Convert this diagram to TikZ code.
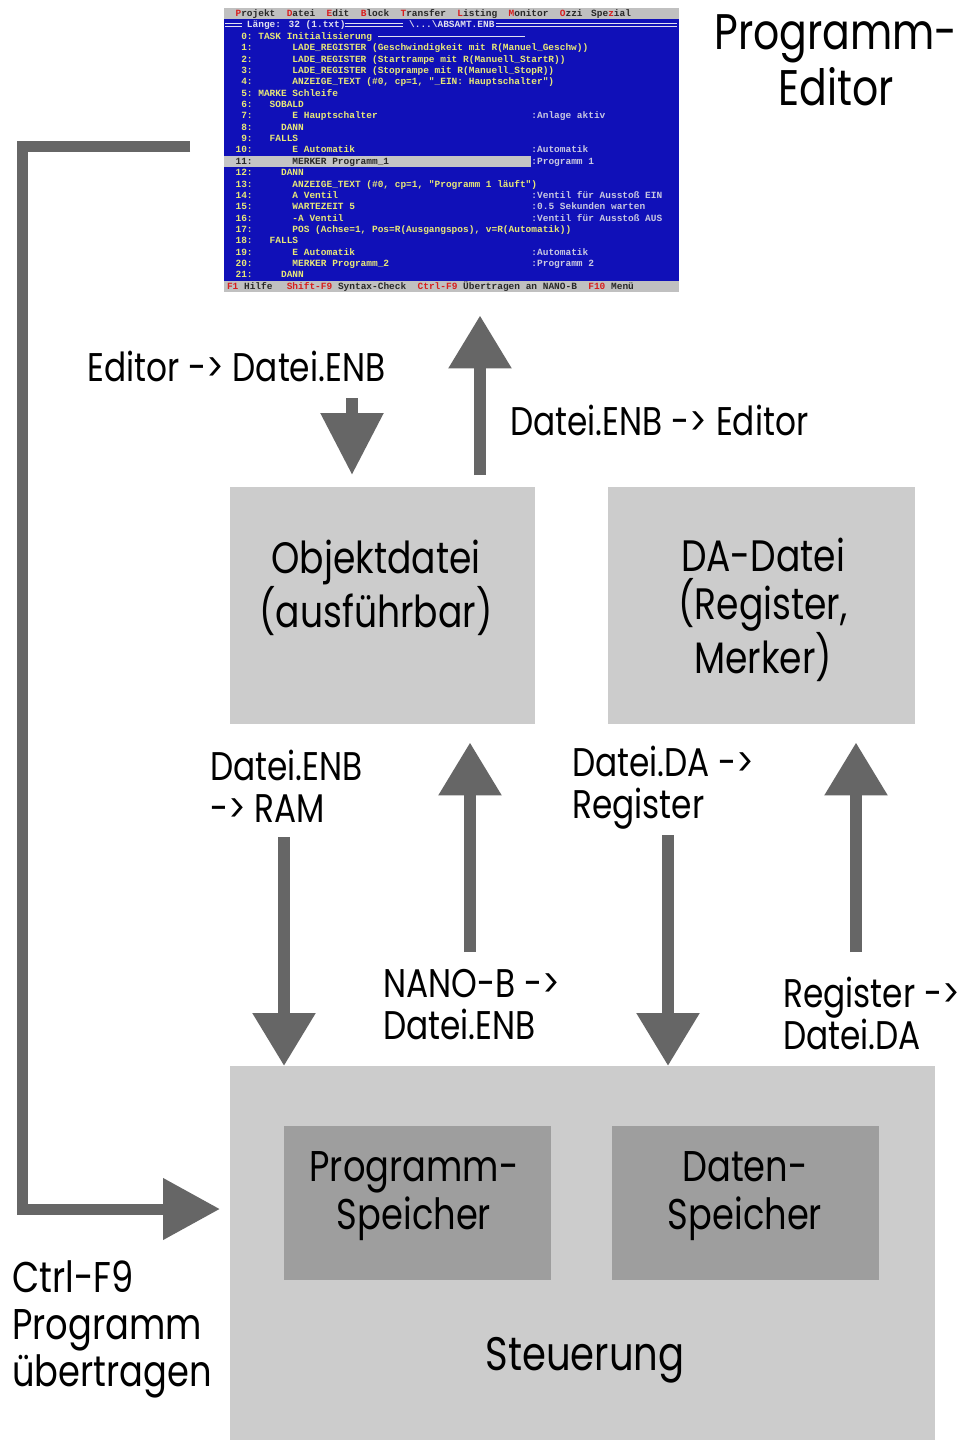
\documentclass[tikz,border=0pt]{standalone}
\usepackage{fontspec}
\setmainfont{Poppins}[FakeStretch=0.82]
\newfontfamily\scrfont{Liberation Mono}
\usetikzlibrary{arrows.meta}
\definecolor{agray}{RGB}{102,102,102}
\definecolor{boxgray}{RGB}{204,204,204}
\definecolor{innergray}{RGB}{158,158,158}
\definecolor{scrblue}{RGB}{16,16,184}
\definecolor{scrgray}{RGB}{192,192,192}
\definecolor{scryel}{RGB}{232,232,120}
\definecolor{scrcom}{RGB}{200,200,225}
\definecolor{scrdark}{RGB}{40,40,40}
\definecolor{hkred}{RGB}{215,30,30}
\definecolor{scrwhite}{RGB}{225,225,240}
\newcommand\stx[5]{\node[scrtext,text=#4] (#1) at ({224+#2*5.69},{8+#3*11.36+8.6}) {#5};}
\newcommand\hk[1]{{\color{hkred}#1}}
\begin{document}
\begin{tikzpicture}[x=1pt,y=-1pt,
  scrtext/.style={anchor=base west,inner sep=0,font=\scrfont\bfseries\fontsize{9.48}{11}\selectfont},
  box/.style={fill=boxgray,draw=none,inner sep=0,anchor=north west},
  inbox/.style={fill=innergray,draw=none,inner sep=0,anchor=north west},
  boxtxt/.style={inner sep=0,align=center,font=\fontsize{44}{48}\selectfont},
  lbl/.style={inner sep=0,align=left,anchor=west,font=\fontsize{40}{42}\selectfont},
  bigarrow/.style={draw=agray,line width=12pt,-{Triangle[width=60pt,length=53pt]}},
  feed/.style={draw=agray,line width=11pt,line join=miter,-{Triangle[width=59pt,length=57pt]}},
  dline/.style={draw=scrwhite,line width=0.9pt}]
\useasboundingbox (0,0) rectangle (965,1440);
\fill[white] (0,0) rectangle (965,1440);

% ---------- editor screenshot ----------
\node[fill=scrblue,inner sep=0,minimum width=455pt,minimum height=284pt,anchor=north west] (screen) at (224,8) {};
\fill[scrgray] (224,8) rectangle (679,19.4);
\fill[scrgray] (224,280.6) rectangle (679,292);
\fill[scrgray!92] (224,156) rectangle (531,167);
% menu
\stx{m1}{2}{0}{scrdark}{\hk{P}rojekt}
\stx{m2}{11}{0}{scrdark}{\hk{D}atei}
\stx{m3}{18}{0}{scrdark}{\hk{E}dit}
\stx{m4}{24}{0}{scrdark}{\hk{B}lock}
\stx{m5}{31}{0}{scrdark}{\hk{T}ransfer}
\stx{m6}{41}{0}{scrdark}{\hk{L}isting}
\stx{m7}{50}{0}{scrdark}{\hk{M}onitor}
\stx{m8}{59}{0}{scrdark}{\hk{O}zzi}
\stx{m9}{64.5}{0}{scrdark}{Spe\hk{z}ial}
% title row
\draw[dline] (225,23.5) -- (242,23.5) (225,26.5) -- (242,26.5);
\draw[dline] (345,23.5) -- (403,23.5) (345,26.5) -- (403,26.5);
\draw[dline] (496,23.5) -- (677,23.5) (496,26.5) -- (677,26.5);
\stx{t1}{4}{1}{scrwhite}{Länge: 32 (1.txt)}
\stx{t2}{32.5}{1}{scrwhite}{\textbackslash...\textbackslash ABSAMT.ENB}
% code
\stx{n0}{3}{2}{scryel}{0:}\stx{c0}{6}{2}{scryel}{TASK Initialisierung}
\draw[scrwhite,line width=0.8pt] (378,36) -- (525,36);
\stx{n1}{3}{3}{scryel}{1:}\stx{c1}{12}{3}{scryel}{LADE\_REGISTER (Geschwindigkeit mit R(Manuel\_Geschw))}
\stx{n2}{3}{4}{scryel}{2:}\stx{c2}{12}{4}{scryel}{LADE\_REGISTER (Startrampe mit R(Manuell\_StartR))}
\stx{n3}{3}{5}{scryel}{3:}\stx{c3}{12}{5}{scryel}{LADE\_REGISTER (Stoprampe mit R(Manuell\_StopR))}
\stx{n4}{3}{6}{scryel}{4:}\stx{c4}{12}{6}{scryel}{ANZEIGE\_TEXT (\#0, cp=1, "\_EIN: Hauptschalter")}
\stx{n5}{3}{7}{scryel}{5:}\stx{c5}{6}{7}{scryel}{MARKE Schleife}
\stx{n6}{3}{8}{scryel}{6:}\stx{c6}{8}{8}{scryel}{SOBALD}
\stx{n7}{3}{9}{scryel}{7:}\stx{c7}{12}{9}{scryel}{E Hauptschalter}\stx{k7}{54}{9}{scrcom}{:Anlage aktiv}
\stx{n8}{3}{10}{scryel}{8:}\stx{c8}{10}{10}{scryel}{DANN}
\stx{n9}{3}{11}{scryel}{9:}\stx{c9}{8}{11}{scryel}{FALLS}
\stx{n10}{2}{12}{scryel}{10:}\stx{c10}{12}{12}{scryel}{E Automatik}\stx{k10}{54}{12}{scrcom}{:Automatik}
\stx{n11}{2}{13}{scrdark}{11:}\stx{c11}{12}{13}{scrdark}{MERKER Programm\_1}\stx{k11}{54}{13}{scrcom}{:Programm 1}
\stx{n12}{2}{14}{scryel}{12:}\stx{c12}{10}{14}{scryel}{DANN}
\stx{n13}{2}{15}{scryel}{13:}\stx{c13}{12}{15}{scryel}{ANZEIGE\_TEXT (\#0, cp=1, "Programm 1 läuft")}
\stx{n14}{2}{16}{scryel}{14:}\stx{c14}{12}{16}{scryel}{A Ventil}\stx{k14}{54}{16}{scrcom}{:Ventil für Ausstoß EIN}
\stx{n15}{2}{17}{scryel}{15:}\stx{c15}{12}{17}{scryel}{WARTEZEIT 5}\stx{k15}{54}{17}{scrcom}{:0.5 Sekunden warten}
\stx{n16}{2}{18}{scryel}{16:}\stx{c16}{12}{18}{scryel}{-A Ventil}\stx{k16}{54}{18}{scrcom}{:Ventil für Ausstoß AUS}
\stx{n17}{2}{19}{scryel}{17:}\stx{c17}{12}{19}{scryel}{POS (Achse=1, Pos=R(Ausgangspos), v=R(Automatik))}
\stx{n18}{2}{20}{scryel}{18:}\stx{c18}{8}{20}{scryel}{FALLS}
\stx{n19}{2}{21}{scryel}{19:}\stx{c19}{12}{21}{scryel}{E Automatik}\stx{k19}{54}{21}{scrcom}{:Automatik}
\stx{n20}{2}{22}{scryel}{20:}\stx{c20}{12}{22}{scryel}{MERKER Programm\_2}\stx{k20}{54}{22}{scrcom}{:Programm 2}
\stx{n21}{2}{23}{scryel}{21:}\stx{c21}{10}{23}{scryel}{DANN}
% status bar
\stx{f1}{0.5}{24}{hkred}{F1}\stx{f2}{3.5}{24}{scrdark}{Hilfe}
\stx{f3}{11}{24}{hkred}{Shift-F9}\stx{f4}{20}{24}{scrdark}{Syntax-Check}
\stx{f5}{34}{24}{hkred}{Ctrl-F9}\stx{f6}{42}{24}{scrdark}{Übertragen an NANO-B}
\stx{f7}{64}{24}{hkred}{F10}\stx{f8}{68}{24}{scrdark}{Menü}

% ---------- title ----------
\node[inner sep=0,align=center,font=\fontsize{50}{56}\selectfont] (ttl) at (836,60) {Programm-\\Editor};

% ---------- boxes ----------
\node[box,minimum width=305pt,minimum height=237pt] (obj) at (230,487) {};
\node[box,minimum width=307pt,minimum height=237pt] (da) at (608,487) {};
\node[box,minimum width=705pt,minimum height=374pt] (st) at (230,1066) {};
\node[inbox,minimum width=267pt,minimum height=154pt] (ps) at (284,1126) {};
\node[inbox,minimum width=267pt,minimum height=154pt] (ds) at (612,1126) {};

\node[boxtxt] (objt) at (376,588) {Objektdatei\\(ausführbar)};
\node[boxtxt] (dat) at (763,610) {DA-Datei\\(Register,\\Merker)};
\node[boxtxt,font=\fontsize{43}{48}\selectfont] (pst) at (414,1196) {Programm-\\Speicher};
\node[boxtxt,font=\fontsize{43}{48}\selectfont] (dst) at (745,1196) {Daten-\\Speicher};
\node[boxtxt,font=\fontsize{47}{52}\selectfont] (stt) at (585,1360) {Steuerung};

% ---------- labels ----------
\node[lbl] (l1) at (87,366) {Editor -> Datei.ENB};
\node[lbl] (l2) at (510,420) {Datei.ENB -> Editor};
\node[lbl] (l3) at (210,786) {Datei.ENB\\-> RAM};
\node[lbl] (l4) at (383,1005) {NANO-B ->\\Datei.ENB};
\node[lbl] (l5) at (572,788) {Datei.DA ->\\Register};
\node[lbl] (l6) at (783,1013) {Register ->\\Datei.DA};
\node[lbl,font=\fontsize{43}{47}\selectfont] (l7) at (12,1329) {Ctrl-F9\\Programm\\übertragen};

% ---------- connectors ----------
\coordinate (a1s) at (352,398);
\draw[bigarrow,-{Triangle[width=60pt,length=62pt]}] (a1s) -- (a1s |- obj.north) [shorten >=12pt];
\coordinate (a2x) at (480,0);
\draw[bigarrow,shorten <=12pt,shorten >=23pt] (a2x |- obj.north) -- (a2x |- screen.south);
\coordinate (a3s) at (284,837);
\draw[bigarrow] (a3s) -- (a3s |- st.north);
\coordinate (a4s) at (470,952);
\draw[bigarrow,shorten >=18pt] (a4s) -- (a4s |- obj.south);
\coordinate (a5s) at (668,835);
\draw[bigarrow] (a5s) -- (a5s |- st.north);
\coordinate (a6s) at (856,952);
\draw[bigarrow,shorten >=18pt] (a6s) -- (a6s |- da.south);
\coordinate (fbs) at (190,146);
\coordinate (fby) at (0,1209);
\draw[feed,shorten >=10pt] (fbs) -- (22,146) -- (22,1209) -- (st.west |- fby);
\end{tikzpicture}
\end{document}
